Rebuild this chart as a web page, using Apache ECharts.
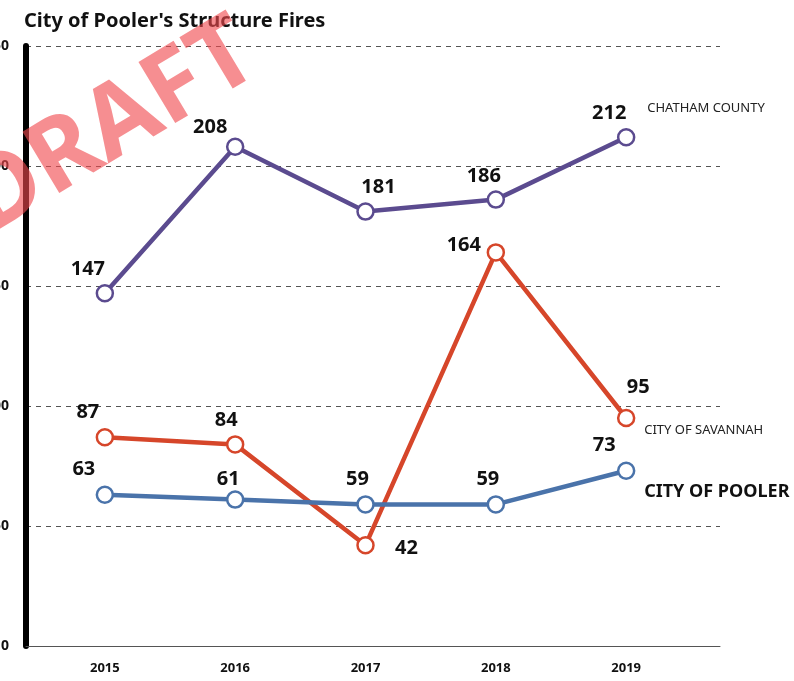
<!DOCTYPE html>
<html>
<head>
<meta charset="utf-8">
<script src="https://cdn.jsdelivr.net/npm/echarts@6/dist/echarts.min.js"></script>
<style>
  html, body { margin: 0; padding: 0; background: #fff; }
  #chart { width: 794px; height: 681px; }
</style>
</head>
<body>
<div id="chart"></div>
<script>
const YEARS = [2015, 2016, 2017, 2018, 2019];
const CHATHAM = [147, 208, 181, 186, 212];
const SAVANNAH = [87, 84, 42, 164, 95];
const POOLER = [63, 61, 59, 59, 73];
const Y_TICKS = [0, 50, 100, 150, 200, 250];

const FONT = '"Noto Sans", "Open Sans", sans-serif';

// per-point label offsets (px from the marker centre)
const chathamOff = [[-17, -24], [-25, -20], [13, -24], [-12, -23], [-17, -24]];
const savannahOff = [[-17, -25], [-9, -24], [41, 3], [-32, -7], [12, -31]];
const poolerOff = [[-21, -26], [-7, -20], [-8, -25], [-8, -25], [-22, -26]];

function lineSeries(name, values, offsets, color, endLabel) {
  return {
    name,
    type: 'line',
    data: values.map((v, i) => ({
      value: [YEARS[i], v],
      label: { offset: offsets[i] }
    })),
    symbol: 'circle',
    symbolSize: 16,
    showSymbol: true,
    lineStyle: { color, width: 4.5 },
    itemStyle: { color: '#fff', borderColor: color, borderWidth: 2.5 },
    label: {
      show: true,
      position: 'inside',
      align: 'center',
      verticalAlign: 'middle',
      color: '#111',
      fontFamily: FONT,
      fontWeight: 'bold',
      fontSize: 20,
      formatter: p => p.value[1]
    },
    endLabel: Object.assign({
      show: true,
      formatter: name,
      align: 'left',
      verticalAlign: 'middle',
      color: '#222',
      fontFamily: FONT,
      distance: 0
    }, endLabel),
    emphasis: { disabled: true },
    z: 3
  };
}

const chart = echarts.init(document.getElementById('chart'));
chart.setOption({
  animation: false,
  backgroundColor: '#fff',
  title: {
    text: "City of Pooler's Structure Fires",
    left: 19,
    top: 6,
    textStyle: { fontFamily: FONT, fontWeight: 'bold', fontSize: 20, color: '#111' }
  },
  grid: {
    left: 26, right: 74, top: 46, bottom: 35,
    containLabel: false,
    outerBoundsMode: 'none'
  },
  xAxis: {
    type: 'value',
    min: 2014.395,
    max: 2019.72,
    axisLine: { show: true, lineStyle: { color: '#555', width: 1 } },
    axisTick: { show: false },
    splitLine: { show: false },
    axisLabel: {
      customValues: YEARS,
      formatter: v => String(v),
      margin: 16,
      color: '#111',
      fontFamily: FONT,
      fontWeight: 'bold',
      fontSize: 13
    }
  },
  yAxis: {
    type: 'value',
    min: 0,
    max: 250,
    interval: 50,
    axisLine: { show: true, lineStyle: { color: '#000', width: 6 } },
    axisTick: { show: false },
    splitLine: { show: true, lineStyle: { color: '#555', width: 1, type: [5, 5] } },
    axisLabel: {
      customValues: Y_TICKS,
      margin: 17,
      color: '#111',
      fontFamily: FONT,
      fontWeight: 'bold',
      fontSize: 14
    }
  },
  series: [
    lineSeries('CHATHAM COUNTY', CHATHAM, chathamOff, '#5b4b8f',
      { fontSize: 13, offset: [21, -29] }),
    lineSeries('CITY OF SAVANNAH', SAVANNAH, savannahOff, '#d6462a',
      { fontSize: 13, offset: [18, 12] }),
    lineSeries('CITY OF POOLER', POOLER, poolerOff, '#4a73aa',
      { fontSize: 18, fontWeight: 'bold', color: '#111', offset: [18, 21] })
  ],
  graphic: [{
    type: 'text',
    x: 112,
    y: 128,
    rotation: 31 * Math.PI / 180,
    z: 100,
    style: {
      text: 'DRAFT',
      fill: 'rgba(240, 72, 78, 0.62)',
      font: 'bold 100px "Noto Sans", sans-serif',
      align: 'center',
      verticalAlign: 'middle'
    }
  }]
});
</script>
</body>
</html>
